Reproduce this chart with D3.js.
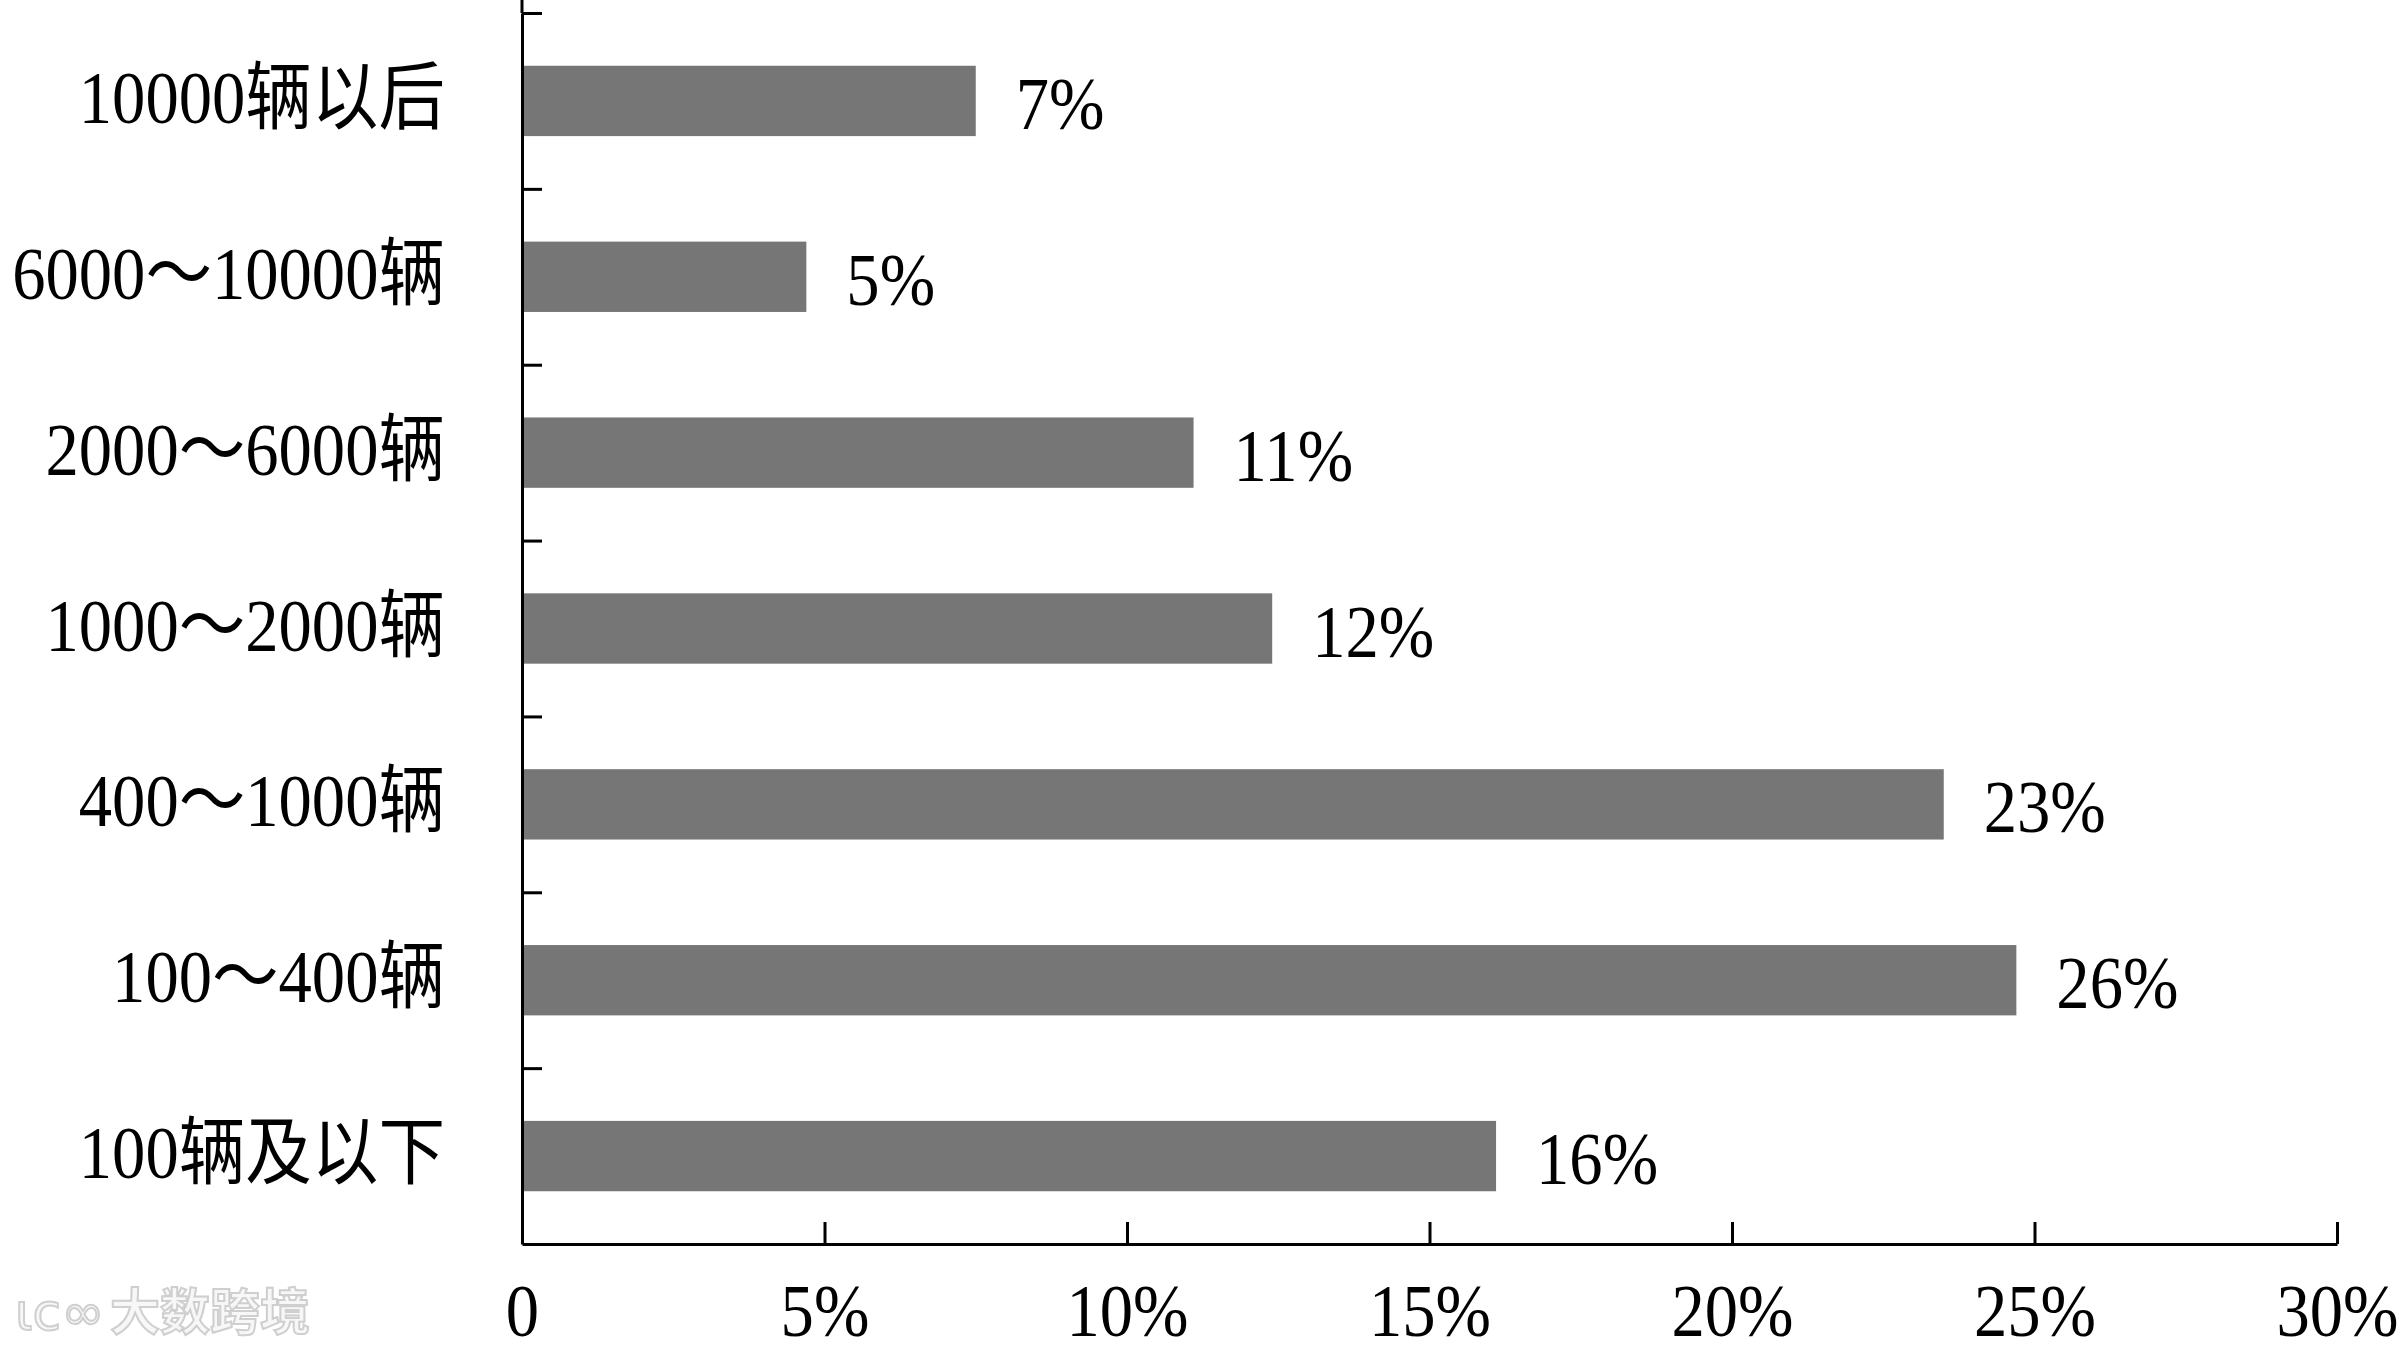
<!DOCTYPE html>
<html>
<head>
<meta charset="utf-8">
<script src="https://cdn.jsdelivr.net/npm/d3@7/dist/d3.min.js"></script>
<style>
  html, body { margin: 0; padding: 0; background: #fff; }
  svg { display: block; }
  text { font-family: "Liberation Serif", "DejaVu Serif", "Noto Sans CJK SC", serif; fill: #000; }
</style>
</head>
<body>
<svg id="chart" width="2408" height="1357"></svg>
<script>
const categories = ["10000辆以后", "6000～10000辆", "2000～6000辆", "1000～2000辆", "400～1000辆", "100～400辆", "100辆及以下"];
const barValues = [7.5, 4.7, 11.1, 12.4, 23.5, 24.7, 16.1];
const valueLabels = ["7%", "5%", "11%", "12%", "23%", "26%", "16%"];
const xTickValues = [0, 5, 10, 15, 20, 25, 30];
const xTickLabels = ["0", "5%", "10%", "15%", "20%", "25%", "30%"];

(function () {
const svg = d3.select("#chart");
const mLeft = 522, mRight = 2337, mTop = 13, mBottom = 1244;
const fontSize = 74, squeeze = 0.9;

const x = d3.scaleLinear().domain([0, 30]).range([mLeft, mRight]);
const y = d3.scaleBand().domain(categories).range([mTop, mBottom]).paddingInner(0.6).paddingOuter(0.3);
const yIdx = d3.scaleLinear().domain([0, categories.length]).range([mTop, mBottom]);

// bars
svg.append("g").selectAll("rect").data(categories).join("rect")
  .attr("x", x(0))
  .attr("y", d => y(d))
  .attr("width", (d, i) => x(barValues[i]) - x(0))
  .attr("height", y.bandwidth())
  .attr("fill", "#767676");

// y axis (ticks at band boundaries pointing right)
const yAxis = svg.append("g").attr("transform", `translate(${mLeft},0)`)
  .call(d3.axisRight(yIdx).tickValues(d3.range(categories.length)).tickFormat("").tickSize(20).tickSizeOuter(0));
yAxis.selectAll("line, path").attr("stroke", "#000").attr("stroke-width", 3);
svg.append("line").attr("x1", mLeft).attr("x2", mLeft).attr("y1", 0).attr("y2", mTop)
  .attr("stroke", "#000").attr("stroke-width", 3);

// x axis (ticks pointing up)
const xAxis = svg.append("g").attr("transform", `translate(0,${mBottom})`)
  .call(d3.axisBottom(x).tickValues(xTickValues).tickFormat((d, i) => xTickLabels[i]).tickSizeInner(-22).tickSizeOuter(0));
xAxis.selectAll("line, path").attr("stroke", "#000").attr("stroke-width", 3);
xAxis.selectAll(".tick text")
  .attr("y", 92).attr("dy", null)
  .attr("transform", `scale(${squeeze},1)`)
  .style("font-size", fontSize + "px")
  .style("font-family", '"Liberation Serif", "DejaVu Serif", serif')
  .style("fill", "#000");

// category labels
const labelX = mLeft - 77;
svg.append("g").selectAll("text").data(categories).join("text")
  .attr("text-anchor", "end")
  .attr("transform", d => `translate(${labelX},${y(d) + y.bandwidth() / 2 + 22}) scale(${squeeze},1)`)
  .style("font-size", fontSize + "px")
  .text(d => d);

// value labels
svg.append("g").selectAll("text").data(categories).join("text")
  .attr("text-anchor", "start")
  .attr("transform", (d, i) => `translate(${x(barValues[i]) + 40},${y(d) + y.bandwidth() / 2 + 28}) scale(${squeeze},1)`)
  .style("font-size", fontSize + "px")
  .text((d, i) => valueLabels[i]);

// watermark
svg.append("text")
  .attr("x", 110).attr("y", 1330)
  .style("font-family", '"Noto Sans CJK SC", sans-serif')
  .style("font-size", "50px").style("font-weight", "bold")
  .style("fill", "#f7f7f7").style("stroke", "#cfcfcf").style("stroke-width", "2px")
  .text("大数跨境");
svg.append("text")
  .attr("x", 15).attr("y", 1330)
  .style("font-family", '"DejaVu Sans", sans-serif')
  .style("font-size", "52px")
  .style("fill", "#f7f7f7").style("stroke", "#cfcfcf").style("stroke-width", "2px")
  .text("ιc∞");
})();
</script>
</body>
</html>
